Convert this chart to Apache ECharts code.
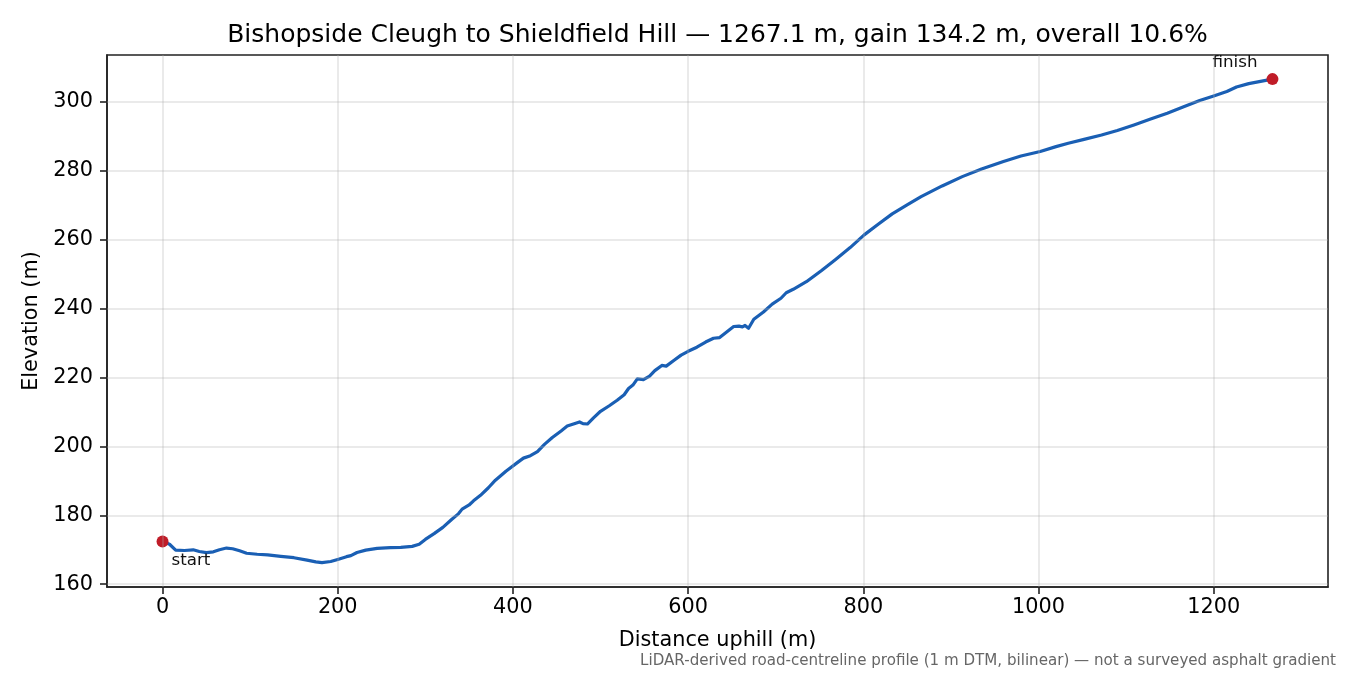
<!DOCTYPE html>
<html><head><meta charset="utf-8">
<script src="https://cdn.jsdelivr.net/npm/echarts@6/dist/echarts.min.js"></script>
<style>html,body{margin:0;padding:0;background:#fff}#c{width:1350px;height:675px}</style>
</head><body><div id="c"></div>
<script>
const distance = [0,8,15,25,35,42,50,58,65,73,80,88,96,108,120,135,150,165,175,182,192,200,210,215,222,232,245,260,272,285,293,300,310,320,330,338,342,350,355,363,372,380,392,405,412,420,428,436,445,455,462,470,476,480,485,492,500,510,519,527,532,537,542,549,556,562,570,575,584,592,600,610,620,629,636,644,652,658,662,665,669,675,686,696,706,712,720,735,752,768,785,801,817,833,850,866,890,913,935,960,980,1002,1020,1034,1052,1072,1090,1109,1128,1147,1165,1184,1200,1215,1226,1240,1255,1267.1];
const elevation = [172.4,171.6,169.9,169.8,170.0,169.5,169.2,169.4,170.0,170.5,170.3,169.7,169.0,168.7,168.5,168.1,167.7,167.0,166.5,166.3,166.6,167.2,168.0,168.3,169.2,169.9,170.4,170.6,170.7,171.0,171.6,173.0,174.7,176.5,178.8,180.5,181.8,183.0,184.2,185.8,188.0,190.2,192.8,195.3,196.6,197.3,198.5,200.6,202.6,204.5,205.9,206.6,207.1,206.6,206.5,208.3,210.2,211.8,213.4,215.0,216.8,217.8,219.6,219.4,220.4,222.0,223.5,223.3,225.0,226.5,227.6,228.8,230.3,231.4,231.6,233.2,234.8,234.9,234.7,235.1,234.3,236.9,239.0,241.3,243.0,244.6,245.6,247.8,251.0,254.2,257.7,261.4,264.5,267.5,270.1,272.5,275.6,278.3,280.5,282.7,284.3,285.6,287.0,288.0,289.1,290.4,291.7,293.3,295.0,296.7,298.5,300.4,301.7,303.0,304.3,305.3,306.0,306.6];
const xTicks = [0,200,400,600,800,1000,1200];
const yTicks = [160,180,200,220,240,260,280,300];
const endpointNames = ['start','finish'];
const titleText = 'Bishopside Cleugh to Shieldfield Hill — 1267.1 m, gain 134.2 m, overall 10.6%';
const footText = 'LiDAR-derived road-centreline profile (1 m DTM, bilinear) — not a surveyed asphalt gradient';

const FONT = 'DejaVu Sans';
const lineData = distance.map((d, i) => [d, elevation[i]]);
const last = distance.length - 1;
const endData = [
  {value: [distance[0], elevation[0]], label: {show: true, formatter: endpointNames[0], position: 'right', distance: 3, offset: [0, 19]}},
  {value: [distance[last], elevation[last]], label: {show: true, formatter: endpointNames[1], position: 'left', distance: 9, offset: [0, -16]}}
];
const gridLines = xTicks.map(v => ({xAxis: v})).concat(yTicks.map(v => ({yAxis: v})));

const chart = echarts.init(document.getElementById('c'), null, {renderer: 'canvas'});
chart.setOption({
  animation: false,
  backgroundColor: '#fff',
  textStyle: {fontFamily: FONT},
  title: [
    {text: titleText, left: 712.5, top: 18, textAlign: 'center',
     textStyle: {fontFamily: FONT, fontSize: 25, fontWeight: 'normal', color: '#000'}},
    {text: footText, right: 9, top: 649,
     textStyle: {fontFamily: FONT, fontSize: 15.1, fontWeight: 'normal', color: '#666'}}
  ],
  grid: {left: 107, top: 55, right: 22, bottom: 88, show: true, borderColor: '#222', borderWidth: 1.6, backgroundColor: 'transparent'},
  xAxis: {
    type: 'value', min: -63.4, max: 1330.5,
    name: 'Distance uphill (m)', nameLocation: 'middle', nameGap: 43,
    nameTextStyle: {fontFamily: FONT, fontSize: 20.8, color: '#000'},
    axisLine: {show: true, onZero: false, lineStyle: {color: '#222', width: 1.6}},
    axisTick: {show: true, inside: false, length: 7, customValues: xTicks, lineStyle: {color: '#222', width: 1.6}},
    axisLabel: {show: true, customValues: xTicks, margin: 10, fontFamily: FONT, fontSize: 20.8, color: '#000',
                formatter: v => String(Math.round(v))},
    splitLine: {show: false}
  },
  yAxis: {
    type: 'value', min: 159.2, max: 313.6,
    name: 'Elevation (m)', nameLocation: 'middle', nameGap: 59,
    nameTextStyle: {fontFamily: FONT, fontSize: 20.8, color: '#000'},
    axisLine: {show: true, onZero: false, lineStyle: {color: '#222', width: 1.6}},
    axisTick: {show: true, inside: false, length: 7, customValues: yTicks, lineStyle: {color: '#222', width: 1.6}},
    axisLabel: {show: true, customValues: yTicks, margin: 14, fontFamily: FONT, fontSize: 20.8, color: '#000',
                formatter: v => String(Math.round(v))},
    splitLine: {show: false}
  },
  series: [
    {
      type: 'line', name: 'grid', z: 1, data: [lineData[0]], showSymbol: false, symbol: 'none',
      lineStyle: {width: 0, opacity: 0}, silent: true,
      markLine: {silent: true, symbol: ['none', 'none'], label: {show: false}, animation: false,
        lineStyle: {color: '#b0b0b0', opacity: 0.35, width: 1.5, type: 'solid'},
        emphasis: {disabled: true},
        data: gridLines}
    },
    {
      type: 'line', name: 'profile', z: 3, data: lineData, showSymbol: false, symbol: 'none', smooth: false,
      lineStyle: {color: '#1a5fb4', width: 3.2, cap: 'round', join: 'round'}
    },
    {
      type: 'scatter', name: 'ends', z: 4, data: endData, symbolSize: 12,
      itemStyle: {color: '#c01c28', opacity: 1},
      label: {fontFamily: FONT, fontSize: 16.7, color: '#111'}
    }
  ]
});
</script>
</body></html>
